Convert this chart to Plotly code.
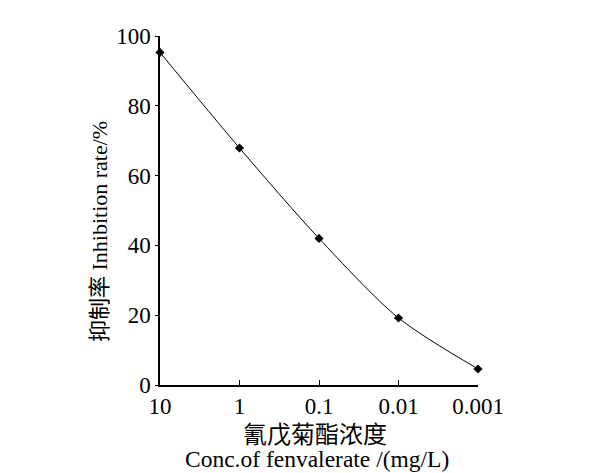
import plotly.graph_objects as go

# concentration of fenvalerate (mg/L) and inhibition rate (%)
conc = [10, 1, 0.1, 0.01, 0.001]
conc_labels = ["10", "1", "0.1", "0.01", "0.001"]
inhibition = [95.3, 67.9, 42.0, 19.2, 4.6]
y_ticks = [0, 20, 40, 60, 80, 100]

FONT = "Liberation Serif, Times New Roman, Noto Sans CJK SC, serif"

fig = go.Figure()
fig.add_trace(go.Scatter(
    x=conc, y=inhibition,
    mode="lines+markers",
    line=dict(color="black", width=1, shape="spline", smoothing=0.8),
    marker=dict(symbol="diamond", size=7, color="black"),
    showlegend=False,
    cliponaxis=False,
    hoverinfo="x+y"
))

# page body adds an 8px offset, so the figure is a bit smaller than the window
fig.update_layout(
    width=581, height=465,
    paper_bgcolor="white", plot_bgcolor="white",
    margin=dict(l=152, r=111, t=28, b=88, autoexpand=False),
    font=dict(family=FONT, size=23, color="black"),
    annotations=[
        dict(text="抑制率 Inhibition rate/%", textangle=-90,
             xref="paper", yref="paper", x=-0.19, y=0.44,
             xanchor="center", yanchor="middle", showarrow=False,
             font=dict(size=22)),
        dict(text="氰戊菊酯浓度", xref="paper", yref="paper",
             x=0.487, y=-0.143, xanchor="center", yanchor="middle",
             showarrow=False, font=dict(size=24)),
        dict(text="Conc.of fenvalerate /(mg/L)", xref="paper", yref="paper",
             x=0.495, y=-0.213, xanchor="center", yanchor="middle",
             showarrow=False, font=dict(size=23.5)),
    ],
)

fig.update_xaxes(
    type="log", range=[1, -3], automargin=False,
    tickvals=conc, ticktext=conc_labels,
    showline=True, linecolor="black", linewidth=1.5,
    ticks="inside", ticklen=5, tickwidth=1, tickcolor="black",
    showgrid=False, zeroline=False,
    tickfont=dict(size=23),
)
fig.update_yaxes(
    range=[0, 100], automargin=False,
    tickvals=y_ticks,
    showline=True, linecolor="black", linewidth=1.5,
    ticks="outside", ticklen=3, tickwidth=1, tickcolor="black",
    showgrid=False, zeroline=False,
    tickfont=dict(size=23),
)

fig.write_html("out.html")
